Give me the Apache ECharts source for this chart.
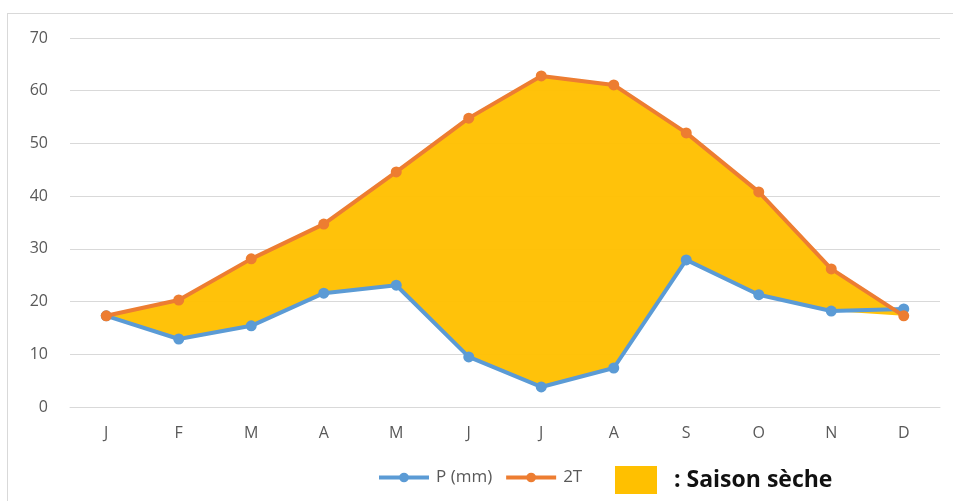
<!DOCTYPE html>
<html>
<head>
<meta charset="utf-8">
<script src="https://cdn.jsdelivr.net/npm/echarts@6/dist/echarts.min.js"></script>
<style>
  html, body { margin: 0; padding: 0; background: #fff; }
  #frame { position: absolute; left: 7px; top: 13px; width: 946px; height: 488px;
           border-left: 1px solid #d9d9d9; border-top: 1px solid #d9d9d9; }
  #chart { position: absolute; left: 0; top: 0; width: 953px; height: 501px; }
</style>
</head>
<body>
<div id="frame"></div>
<div id="chart"></div>
<script>
// mois
const months = ["J", "F", "M", "A", "M", "J", "J", "A", "S", "O", "N", "D"];
// précipitations (mm)
const precip = [17.3, 12.9, 15.4, 21.6, 23.1, 9.5, 3.8, 7.4, 27.9, 21.3, 18.2, 18.6];
// 2 x température
const twoT = [17.3, 20.3, 28.1, 34.7, 44.6, 54.8, 62.8, 61.1, 52.0, 40.8, 26.2, 17.3];
const yTicks = [0, 10, 20, 30, 40, 50, 60, 70];

// base + écart pour remplir la saison sèche (2T > P)
const base = precip.map((p, i) => Math.min(p, twoT[i]));
const gap = precip.map((p, i) => Math.max(0, twoT[i] - p));

const chart = echarts.init(document.getElementById("chart"));

chart.setOption({
  animation: false,
  grid: { left: 70, right: 13, top: 38, bottom: 94 },
  xAxis: {
    type: "category",
    data: months,
    boundaryGap: true,
    axisLine: { show: true, lineStyle: { color: "#d9d9d9" } },
    axisTick: { show: false },
    axisLabel: { color: "#595959", fontSize: 16, margin: 18, fontFamily: "Open Sans" },
  },
  yAxis: {
    type: "value",
    min: yTicks[0],
    max: yTicks[yTicks.length - 1],
    interval: 10,
    axisLine: { show: false },
    axisTick: { show: false },
    axisLabel: { color: "#595959", fontSize: 16, margin: 22, fontFamily: "Open Sans" },
    splitLine: { lineStyle: { color: "#d9d9d9", width: 1 } },
  },
  legend: [
    {
      data: ["P (mm)", "2T"],
      left: 372,
      top: 464,
      itemWidth: 50,
      itemHeight: 12,
      itemGap: 12,
      lineStyle: { width: 4 },
      textStyle: { color: "#595959", fontSize: 17, fontFamily: "Open Sans", padding: [0, 0, 0, 2] },
    },
    {
      data: ["Saison sèche"],
      left: 610,
      top: 461,
      icon: "rect",
      itemWidth: 42,
      itemHeight: 28,
      itemGap: 0,
      formatter: ": Saison sèche",
      textStyle: { color: "#111", fontSize: 23, fontWeight: "bold", fontFamily: "Open Sans", padding: [0, 0, 0, 12] },
    },
  ],
  series: [
    {
      name: "base",
      type: "line",
      stack: "dry",
      data: base,
      symbol: "none",
      lineStyle: { opacity: 0 },
      silent: true,
    },
    {
      name: "Saison sèche",
      type: "line",
      stack: "dry",
      data: gap,
      symbol: "none",
      lineStyle: { opacity: 0 },
      itemStyle: { color: "#ffc000" },
      areaStyle: { color: "#ffc000", opacity: 0.96 },
      silent: true,
    },
    {
      name: "P (mm)",
      type: "line",
      data: precip,
      symbol: "circle",
      symbolSize: 11,
      itemStyle: { color: "#5b9bd5" },
      lineStyle: { color: "#5b9bd5", width: 4 },
      z: 3,
    },
    {
      name: "2T",
      type: "line",
      data: twoT,
      symbol: "circle",
      symbolSize: 11,
      itemStyle: { color: "#ed7d31" },
      lineStyle: { color: "#ed7d31", width: 4 },
      z: 4,
    },
  ],
});
</script>
</body>
</html>
